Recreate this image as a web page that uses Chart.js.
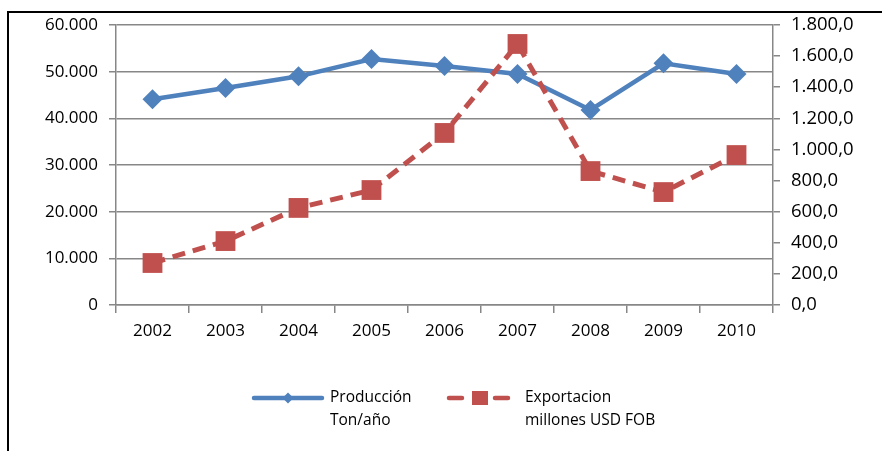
<!DOCTYPE html>
<html>
<head>
<meta charset="utf-8">
<script src="https://cdn.jsdelivr.net/npm/chart.js@4.4.0/dist/chart.umd.min.js"></script>
<style>
  html, body { margin: 0; padding: 0; background: #fff; }
  #wrap { width: 882px; height: 451px; }
</style>
</head>
<body>
<div id="wrap"><canvas id="chart" width="882" height="451"></canvas></div>
<script>
const years = ['2002', '2003', '2004', '2005', '2006', '2007', '2008', '2009', '2010'];
const produccion = [44100, 46500, 49000, 52700, 51200, 49500, 41800, 51800, 49500];
const exportacion = [270, 411, 624, 739, 1106, 1678, 861, 726, 964];
const produccionLabel = ['Producción', 'Ton/año'];
const exportacionLabel = ['Exportacion', 'millones USD FOB'];

const BLUE = '#4F81BD';
const RED = '#C0504D';
const GRID = '#878787';
const FONT = "'Open Sans', sans-serif";

// 60000 -> "60.000"
function thousands(n) {
  return String(Math.round(n)).replace(/\B(?=(\d{3})+(?!\d))/g, '.');
}
// 1800 -> "1.800,0"
function oneDecimal(n) {
  const s = n.toFixed(1).split('.');
  return thousands(Number(s[0])) + ',' + s[1];
}

// frame + legend drawn by hand (legend labels are two lines)
const extras = {
  id: 'extras',
  afterDraw(chart) {
    const ctx = chart.ctx;
    ctx.save();
    // outer frame
    ctx.strokeStyle = '#000';
    ctx.lineWidth = 2;
    ctx.beginPath();
    ctx.moveTo(8, 451);
    ctx.lineTo(8, 12);
    ctx.lineTo(882, 12);
    ctx.stroke();

    const ly = 398;
    ctx.lineCap = 'round';
    ctx.lineWidth = 4.5;
    // Producción sample
    ctx.strokeStyle = BLUE;
    ctx.beginPath();
    ctx.moveTo(254, ly);
    ctx.lineTo(322, ly);
    ctx.stroke();
    ctx.fillStyle = BLUE;
    ctx.beginPath();
    ctx.moveTo(288, ly - 5.5);
    ctx.lineTo(293.5, ly);
    ctx.lineTo(288, ly + 5.5);
    ctx.lineTo(282.5, ly);
    ctx.closePath();
    ctx.fill();
    // Exportacion sample
    ctx.strokeStyle = RED;
    ctx.beginPath();
    ctx.moveTo(449, ly);
    ctx.lineTo(462, ly);
    ctx.moveTo(495, ly);
    ctx.lineTo(508, ly);
    ctx.stroke();
    ctx.fillStyle = RED;
    ctx.fillRect(472, ly - 7, 16, 14);

    ctx.fillStyle = '#000';
    ctx.font = '15.5px ' + FONT;
    ctx.textBaseline = 'middle';
    ctx.textAlign = 'left';
    produccionLabel.forEach((t, i) => ctx.fillText(t, 330, ly + i * 23));
    exportacionLabel.forEach((t, i) => ctx.fillText(t, 525, ly + i * 23));
    ctx.restore();
  }
};

new Chart(document.getElementById('chart'), {
  type: 'line',
  data: {
    labels: years,
    datasets: [
      {
        label: produccionLabel.join(' '),
        data: produccion,
        yAxisID: 'y',
        borderColor: BLUE,
        backgroundColor: BLUE,
        borderWidth: 4.5,
        tension: 0,
        pointStyle: 'rectRot',
        pointRadius: 10,
        pointBorderWidth: 0,
        order: 2,
      },
      {
        label: exportacionLabel.join(' '),
        data: exportacion,
        yAxisID: 'y1',
        borderColor: RED,
        backgroundColor: RED,
        borderWidth: 5,
        borderDash: [13, 8],
        tension: 0,
        pointStyle: 'rect',
        pointRadius: 14,
        pointBorderWidth: 0,
        order: 1,
      },
    ],
  },
  options: {
    responsive: false,
    animation: false,
    devicePixelRatio: 1,
    layout: { padding: { top: 25, left: 0, right: 0, bottom: 0 } },
    plugins: {
      legend: { display: false },
      tooltip: { enabled: false },
    },
    scales: {
      x: {
        offset: true,
        grid: { drawOnChartArea: false, offset: true, color: GRID, tickLength: 8, lineWidth: 1.5 },
        border: { color: GRID, width: 1.5 },
        ticks: { color: '#000', font: { family: FONT, size: 17 }, padding: 8, maxRotation: 0 },
        afterFit(scale) { scale.height = 146; },
      },
      y: {
        position: 'left',
        min: 0,
        max: 60000,
        ticks: {
          stepSize: 10000,
          color: '#000',
          font: { family: FONT, size: 17 },
          padding: 11,
          callback: v => thousands(v),
        },
        grid: { color: GRID, tickLength: 7, lineWidth: 1.5 },
        border: { color: GRID, width: 1.5 },
        afterFit(scale) { scale.width = 116; },
      },
      y1: {
        position: 'right',
        min: 0,
        max: 1800,
        ticks: {
          stepSize: 200,
          color: '#000',
          font: { family: FONT, size: 18.5 },
          padding: 11,
          callback: v => oneDecimal(v),
        },
        grid: { drawOnChartArea: false, color: GRID, tickLength: 7, lineWidth: 1.5 },
        border: { color: GRID, width: 1.5 },
        afterFit(scale) { scale.width = 109; },
      },
    },
  },
  plugins: [extras],
});
</script>
</body>
</html>
